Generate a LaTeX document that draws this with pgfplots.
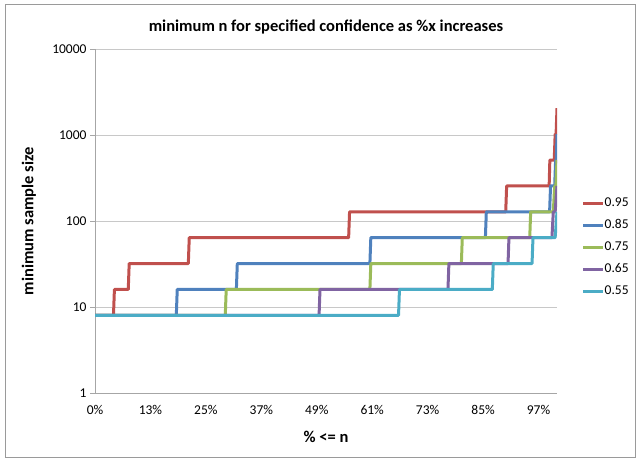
\documentclass[border=0pt]{standalone}
\usepackage{pgfplots}
\pgfplotsset{compat=1.18}
\usepackage{fontspec}
\setmainfont{Carlito}

\definecolor{sRed}{HTML}{C0504D}
\definecolor{sBlue}{HTML}{4F81BD}
\definecolor{sGreen}{HTML}{9BBB59}
\definecolor{sPurple}{HTML}{8064A2}
\definecolor{sCyan}{HTML}{4BACC6}
\definecolor{axisgray}{HTML}{A6A6A6}
\definecolor{gridgray}{HTML}{C8C8C8}
\definecolor{framegray}{HTML}{9A9A9A}

\begin{document}
\begin{tikzpicture}[x=1pt,y=1pt]
% chart frame
\draw[framegray, line width=1pt] (5.5,-4) rectangle (635,-457.5);

\begin{axis}[
  at={(95pt,-393pt)}, anchor=south west,
  scale only axis, width=462pt, height=344pt,
  xmin=0, xmax=100,
  ymode=log, ymin=1, ymax=10000,
  axis lines=left, axis line style={-, axisgray, line width=1pt},
  xtick={0,12,24,36,48,60,72,84,96},
  xticklabels={0\%,13\%,25\%,37\%,49\%,61\%,73\%,85\%,97\%},
  minor xtick={0,4.8,9.6,14.4,19.2,24,28.8,33.6,38.4,43.2,48,52.8,57.6,62.4,67.2,72,76.8,81.6,86.4,91.2,96},
  ytick={1,10,100,1000,10000},
  yticklabels={1,10,100,1000,10000},
  yminorticks=false,
  tick align=outside,
  major tick length=5pt, minor tick length=5pt,
  xtick style={draw=none},
  minor tick style={axisgray, line width=1pt},
  ytick style={axisgray, line width=1pt},
  ymajorgrids, grid style={gridgray, line width=1pt},
  tick label style={font=\fontsize{13.5}{15}\selectfont, text=black},
  xticklabel style={yshift=-4pt},
  yticklabel style={xshift=0pt},
  legend cell align=left,
  legend image code/.code={\draw[#1, line width=3pt] (0pt,0pt) -- (20pt,0pt);},
  legend style={at={(1.053,0.423)}, anchor=west, draw=none, fill=none,
    font=\fontsize{13.5}{15}\selectfont, inner sep=0pt, row sep=10pt,
    nodes={inner sep=0pt, text height=9pt, text depth=3pt}},
  every axis plot/.append style={line width=3pt, line join=round},
]
% 0.95
\addplot[sRed] coordinates {
 (0,8) (4.0,8) (4.2,16) (7.2,16) (7.4,32) (20.2,32) (20.4,64) (54.9,64)
 (55.1,128) (88.9,128) (89.1,256) (98.3,256) (98.45,512) (99.4,512)
 (99.6,1024) (99.8,1024) (100,2048)};
\addlegendentry{0.95}
% 0.85
\addplot[sBlue] coordinates {
 (0,8) (17.6,8) (17.8,16) (30.6,16) (30.8,32) (59.5,32) (59.7,64) (84.5,64)
 (84.7,128) (98.4,128) (98.6,256) (99.5,256) (99.7,512) (99.85,512) (100,1024)};
\addlegendentry{0.85}
% 0.75
\addplot[sGreen] coordinates {
 (0,8) (28.2,8) (28.4,16) (59.5,16) (59.7,32) (79.3,32) (79.5,64) (94.1,64)
 (94.3,128) (99.2,128) (99.5,256) (99.75,256) (100,512)};
\addlegendentry{0.75}
% 0.65
\addplot[sPurple] coordinates {
 (0,8) (48.5,8) (48.7,16) (76.4,16) (76.6,32) (89.4,32) (89.6,64) (98.9,64)
 (99.2,128) (99.6,128) (100,256)};
\addlegendentry{0.65}
% 0.55
\addplot[sCyan] coordinates {
 (0,8) (65.7,8) (65.9,16) (86.0,16) (86.2,32) (94.6,32) (94.8,64) (99.6,64)
 (100,128)};
\addlegendentry{0.55}
\end{axis}

% titles
\node[font=\fontsize{16.5}{19}\selectfont\bfseries] at (326,-27) {minimum n for specified confidence as \%x increases};
\node[font=\fontsize{16.5}{19}\selectfont\bfseries] at (326,-437) {\% <= n};
\node[font=\fontsize{16.5}{19}\selectfont\bfseries, rotate=90] at (29,-221) {minimum sample size};

\pgfresetboundingbox
\useasboundingbox (0,0) rectangle (637,-461);
\end{tikzpicture}
\end{document}
